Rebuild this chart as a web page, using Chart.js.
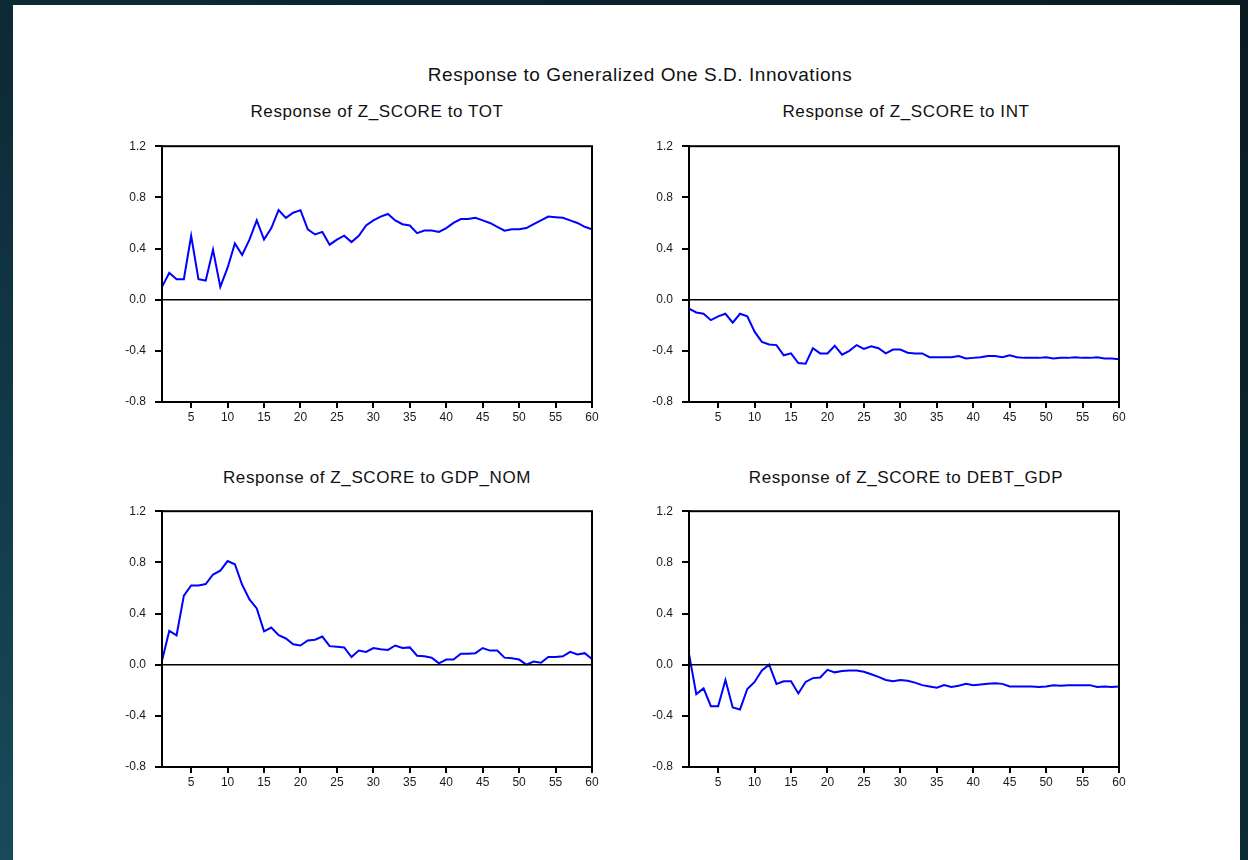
<!DOCTYPE html>
<html>
<head>
<meta charset="utf-8">
<script src="https://cdn.jsdelivr.net/npm/chart.js@4/dist/chart.umd.min.js"></script>
<style>
  html, body { margin: 0; padding: 0; }
  body {
    width: 1248px; height: 860px; overflow: hidden; position: relative;
    background: linear-gradient(to top right, #184a5c 0%, #0d2c37 45%, #0a1b22 100%);
    font-family: "Liberation Sans", Arial, sans-serif;
  }
  #sheet { position: absolute; left: 13px; top: 5px; width: 1227px; height: 855px; background: #fff; }
  .ttl { position: absolute; transform: translate(-50%, -50%); white-space: nowrap; color: #111; }
  .main { font-size: 19px; letter-spacing: 0.55px; }
  .sub { font-size: 17px; letter-spacing: 0.6px; }
  canvas { position: absolute; }
</style>
</head>
<body>
<div id="sheet"></div>
<div class="ttl main" style="left:640px; top:75px;">Response to Generalized One S.D. Innovations</div>
<div class="ttl sub" style="left:377px; top:112px;">Response of Z_SCORE to TOT</div>
<div class="ttl sub" style="left:906px; top:112px;">Response of Z_SCORE to INT</div>
<div class="ttl sub" style="left:377px; top:478px;">Response of Z_SCORE to GDP_NOM</div>
<div class="ttl sub" style="left:906px; top:478px;">Response of Z_SCORE to DEBT_GDP</div>
<canvas id="c1"></canvas>
<canvas id="c2"></canvas>
<canvas id="c3"></canvas>
<canvas id="c4"></canvas>
<script>
// periods after the shock
const periods = [1,2,3,4,5,6,7,8,9,10,11,12,13,14,15,16,17,18,19,20,
  21,22,23,24,25,26,27,28,29,30,31,32,33,34,35,36,37,38,39,40,
  41,42,43,44,45,46,47,48,49,50,51,52,53,54,55,56,57,58,59,60];

const xTicks = [5,10,15,20,25,30,35,40,45,50,55,60];
const yTicks = [-0.8,-0.4,0.0,0.4,0.8,1.2];

// responses of Z_SCORE
const respTOT = [0.10,0.21,0.16,0.16,0.50,0.16,0.15,0.39,0.10,0.25,
  0.44,0.35,0.47,0.62,0.47,0.56,0.70,0.64,0.68,0.70,
  0.55,0.51,0.53,0.43,0.47,0.50,0.45,0.50,0.58,0.62,
  0.65,0.67,0.62,0.59,0.58,0.52,0.54,0.54,0.53,0.56,
  0.60,0.63,0.63,0.64,0.62,0.60,0.57,0.54,0.55,0.55,
  0.56,0.59,0.62,0.65,0.645,0.64,0.62,0.60,0.57,0.55];

const respINT = [-0.07,-0.10,-0.11,-0.16,-0.13,-0.11,-0.18,-0.11,-0.13,-0.25,
  -0.33,-0.35,-0.355,-0.435,-0.42,-0.495,-0.50,-0.38,-0.42,-0.42,
  -0.36,-0.43,-0.40,-0.355,-0.385,-0.365,-0.38,-0.42,-0.39,-0.39,
  -0.415,-0.42,-0.42,-0.45,-0.45,-0.45,-0.45,-0.44,-0.46,-0.455,
  -0.45,-0.44,-0.44,-0.45,-0.435,-0.45,-0.455,-0.455,-0.455,-0.45,
  -0.46,-0.455,-0.455,-0.45,-0.455,-0.455,-0.45,-0.46,-0.46,-0.465];

const respGDP = [0.03,0.265,0.23,0.54,0.62,0.62,0.63,0.705,0.735,0.81,
  0.785,0.625,0.51,0.44,0.26,0.29,0.23,0.205,0.16,0.15,
  0.19,0.195,0.22,0.145,0.14,0.135,0.06,0.11,0.10,0.13,
  0.12,0.115,0.15,0.13,0.135,0.07,0.065,0.055,0.01,0.04,
  0.04,0.085,0.085,0.09,0.13,0.11,0.11,0.055,0.05,0.04,
  0.00,0.025,0.015,0.06,0.06,0.065,0.10,0.08,0.09,0.045];

const respDEBT = [0.085,-0.23,-0.185,-0.325,-0.325,-0.12,-0.335,-0.35,-0.19,-0.135,
  -0.045,0.00,-0.15,-0.13,-0.13,-0.225,-0.135,-0.105,-0.10,-0.04,
  -0.06,-0.05,-0.045,-0.045,-0.055,-0.075,-0.095,-0.12,-0.13,-0.12,
  -0.125,-0.14,-0.16,-0.17,-0.18,-0.16,-0.175,-0.165,-0.15,-0.16,
  -0.155,-0.15,-0.145,-0.15,-0.17,-0.17,-0.17,-0.17,-0.175,-0.17,
  -0.16,-0.165,-0.16,-0.16,-0.16,-0.16,-0.175,-0.17,-0.175,-0.17];

// frame + zero line like the eviews output
const framePlugin = {
  id: 'frame',
  afterDatasetsDraw(chart) {
    const { ctx, chartArea: a, scales } = chart;
    const y0 = scales.y.getPixelForValue(0);
    ctx.save();
    ctx.strokeStyle = '#000';
    ctx.lineWidth = 1.6;
    ctx.beginPath();
    ctx.moveTo(a.left, y0);
    ctx.lineTo(a.right, y0);
    ctx.stroke();
    ctx.lineWidth = 2;
    ctx.strokeRect(a.left, a.top, a.right - a.left, a.bottom - a.top);
    ctx.restore();
  }
};

function makeChart(id, left, top, values) {
  const canvas = document.getElementById(id);
  canvas.width = 510;
  canvas.height = 300;
  canvas.style.left = left + 'px';
  canvas.style.top = top + 'px';
  const tickFont = { family: '"Liberation Sans", Arial, sans-serif', size: 12 };
  return new Chart(canvas, {
    type: 'line',
    data: {
      datasets: [{
        data: periods.map((p, i) => ({ x: p, y: values[i] })),
        borderColor: '#0000ff',
        borderWidth: 2,
        pointRadius: 0,
        tension: 0,
        fill: false
      }]
    },
    options: {
      responsive: false,
      animation: false,
      layout: { padding: { top: 15, right: 18, left: 0, bottom: 0 } },
      plugins: { legend: { display: false }, tooltip: { enabled: false } },
      scales: {
        x: {
          type: 'linear',
          min: 1,
          max: 60,
          afterBuildTicks: s => { s.ticks = xTicks.map(v => ({ value: v })); },
          afterFit: s => { s.height = 28; },
          grid: { drawOnChartArea: false, drawTicks: true, tickLength: 6, color: '#000', lineWidth: 2 },
          border: { display: true, color: '#000', width: 2 },
          ticks: { font: tickFont, color: '#1a1a1a', padding: 2, maxRotation: 0, autoSkip: false }
        },
        y: {
          min: -0.8,
          max: 1.2,
          afterBuildTicks: s => { s.ticks = yTicks.map(v => ({ value: v })); },
          afterFit: s => { s.width = 62; },
          grid: { drawOnChartArea: false, drawTicks: true, tickLength: 7, color: '#000', lineWidth: 2 },
          border: { display: true, color: '#000', width: 2 },
          ticks: { font: tickFont, color: '#1a1a1a', padding: 9, callback: v => v.toFixed(1) }
        }
      }
    },
    plugins: [framePlugin]
  });
}

makeChart('c1', 100, 130, respTOT);
makeChart('c2', 627, 130, respINT);
makeChart('c3', 100, 495, respGDP);
makeChart('c4', 627, 495, respDEBT);
</script>
</body>
</html>
